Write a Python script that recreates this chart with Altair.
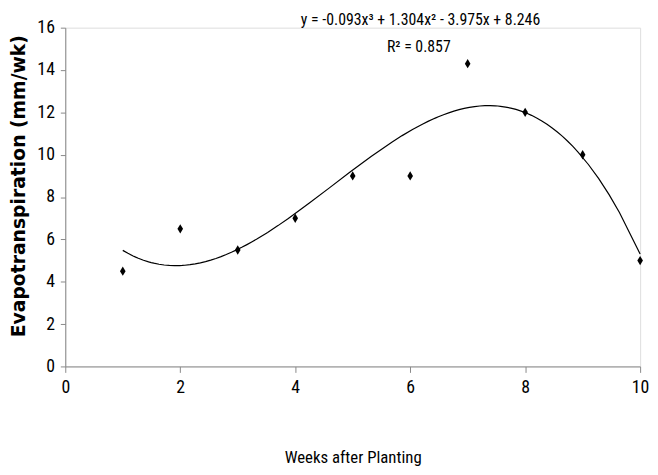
import altair as alt
import pandas as pd

weeks = [1, 2, 3, 4, 5, 6, 7, 8, 9, 10]
et = [4.5, 6.5, 5.5, 7.0, 9.0, 9.0, 14.3, 12.0, 10.0, 5.0]
x_ticks = [0, 2, 4, 6, 8, 10]
y_ticks = [0, 2, 4, 6, 8, 10, 12, 14, 16]
eq_text = ["y = -0.093x³ + 1.304x² - 3.975x + 8.246", "R² = 0.857"]
eq_x = [6.18, 6.15]
eq_y = [16.38, 15.1]

df = pd.DataFrame({"week": weeks, "et": et})
ann = pd.DataFrame({"t": eq_text, "x": eq_x, "y": eq_y})

FONT = "Roboto Condensed, Liberation Sans Narrow, Arial Narrow, Liberation Sans, sans-serif"

xscale = alt.Scale(domain=[0, 10], nice=False, zero=True)
yscale = alt.Scale(domain=[0, 16], nice=False)

xaxis = alt.Axis(values=x_ticks, format="d", grid=False, title="Weeks after Planting",
                 titleFont=FONT, titleFontSize=17, titleFontWeight="normal",
                 titleColor="black", titlePadding=54,
                 labelFont=FONT, labelFontSize=18, labelColor="black",
                 labelPadding=6, domainColor="#888888", tickColor="#888888",
                 tickSize=6, labelFlush=False)
yaxis = alt.Axis(values=y_ticks, format="d", grid=False, title="Evapotranspiration (mm/wk)",
                 titleFont="DejaVu Sans", titleFontSize=19, titleFontWeight="bold",
                 titleColor="black", titleX=-37, titleY=160,
                 labelFont=FONT, labelFontSize=18, labelColor="black",
                 labelPadding=6, domainColor="#888888", tickColor="#888888",
                 tickSize=5)

base = alt.Chart(df)

points = base.mark_point(
    shape="M0,-1L0.6,0L0,1L-0.6,0Z", filled=True, color="black", size=90, opacity=1
).encode(
    x=alt.X("week:Q", scale=xscale, axis=xaxis),
    y=alt.Y("et:Q", scale=yscale, axis=yaxis),
)

trend = base.transform_regression(
    "week", "et", method="poly", order=3, extent=[1, 10]
).mark_line(color="black", strokeWidth=1.2).encode(
    x=alt.X("week:Q", scale=xscale),
    y=alt.Y("et:Q", scale=yscale),
)

labels = alt.Chart(ann).mark_text(
    font=FONT, fontSize=16, color="black", align="center", baseline="middle", clip=False
).encode(
    x=alt.X("x:Q", scale=xscale),
    y=alt.Y("y:Q", scale=yscale),
    text="t:N",
)

chart = alt.layer(trend, points, labels).properties(
    width=582, height=343,
    autosize=alt.AutoSizeParams(type="none"),
    padding={"left": 58, "top": 17, "right": 10, "bottom": 107},
).configure_view(stroke=None).configure(background="white")

chart.save("out.html", embed_options={"renderer": "svg", "actions": False})
